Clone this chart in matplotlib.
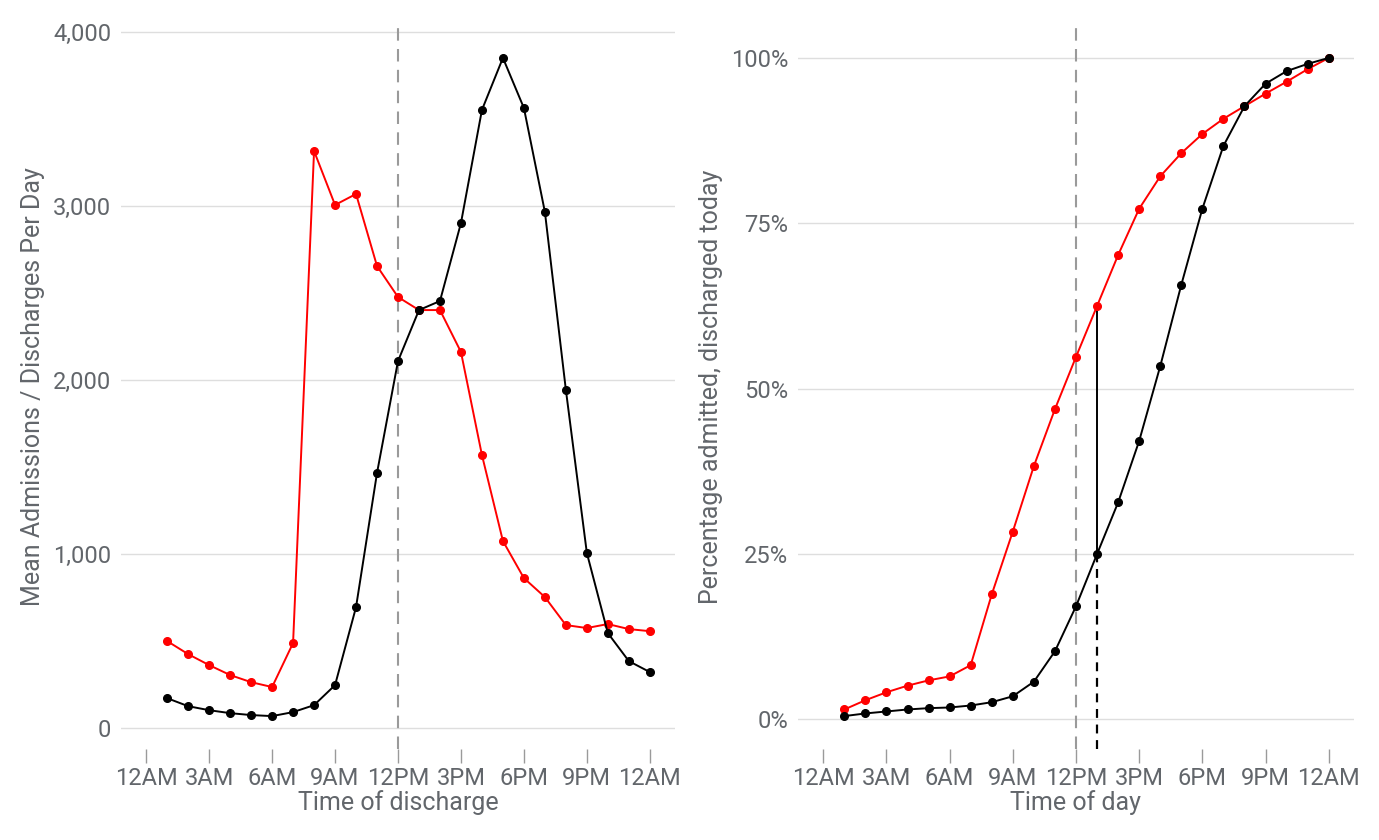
import matplotlib.pyplot as plt

plt.rcParams['font.family'] = ['Roboto', 'DejaVu Sans']

# hours of the day (1 = 1AM ... 24 = midnight)
hours = list(range(1, 25))

# mean admissions / discharges per day by hour
admissions = [500, 425, 362, 305, 264, 236, 489, 3316, 3006, 3069, 2655, 2477,
              2402, 2402, 2161, 1569, 1075, 862, 753, 592, 575, 598, 569, 557]
discharges = [172, 126, 103, 86, 75, 69, 92, 132, 247, 695, 1466, 2109,
              2402, 2454, 2902, 3552, 3851, 3563, 2966, 1943, 1006, 546, 385, 322]

# cumulative percentage admitted / discharged today
pct_admitted = [1.5, 2.9, 4.1, 5.1, 5.9, 6.5, 8.2, 18.9, 28.4, 38.3, 46.9, 54.8,
                62.5, 70.2, 77.2, 82.1, 85.6, 88.5, 90.8, 92.7, 94.6, 96.4, 98.3, 100]
pct_discharged = [0.5, 0.9, 1.2, 1.5, 1.7, 1.8, 2.1, 2.6, 3.5, 5.7, 10.3, 17.1,
                  25.0, 32.8, 42.1, 53.4, 65.7, 77.2, 86.7, 92.7, 96.1, 98.0, 99.1, 100]

tick_hours = [0, 3, 6, 9, 12, 15, 18, 21, 24]
tick_labels = ['12AM', '3AM', '6AM', '9AM', '12PM', '3PM', '6PM', '9PM', '12AM']
noon = 12
gap_hour = 13

txt = '#62666b'
grid_c = '#dedede'

fig = plt.figure(figsize=(13.79, 8.4), dpi=100)
ax1 = fig.add_axes([121/1379, 1 - 749/840, (675-121)/1379, (749-25)/840])
ax2 = fig.add_axes([798/1379, 1 - 749/840, (1354-798)/1379, (749-25)/840])

for ax in (ax1, ax2):
    for s in ax.spines.values():
        s.set_visible(False)
    ax.set_xlim(-1.2, 25.2)
    ax.set_xticks(tick_hours)
    ax.set_xticklabels(tick_labels)
    ax.tick_params(axis='x', length=10, width=1, color='#9a9a9a', pad=3,
                   labelsize=17, labelcolor=txt)
    ax.tick_params(axis='y', length=0, pad=7, labelsize=17, labelcolor=txt)
    ax.grid(axis='y', color=grid_c, linewidth=1)
    ax.set_axisbelow(True)
    ax.axvline(noon, color='#9a9a9a', linestyle=(0, (6, 4)), linewidth=1.5, zorder=1)

# left panel
ax1.plot(hours, admissions, color='red', linewidth=1.4, marker='o', markersize=5.5, zorder=3)
ax1.plot(hours, discharges, color='black', linewidth=1.4, marker='o', markersize=5.5, zorder=3)
ax1.set_ylim(-120, 4040)
ax1.set_yticks([0, 1000, 2000, 3000, 4000])
ax1.set_yticklabels(['0', '1,000', '2,000', '3,000', '4,000'])
ax1.set_xlabel('Time of discharge', fontsize=18, color=txt, labelpad=0)
ax1.set_ylabel('Mean Admissions / Discharges Per Day', fontsize=18, color=txt, labelpad=6)

# right panel
i = hours.index(gap_hour)
ax2.plot([gap_hour, gap_hour], [pct_discharged[i], pct_admitted[i]], color='black', linewidth=1.4, zorder=2)
ax2.plot([gap_hour, gap_hour], [-4.475, pct_discharged[i]], color='black', linewidth=1.6,
         linestyle=(0, (4, 3)), zorder=2)
ax2.plot(hours, pct_admitted, color='red', linewidth=1.4, marker='o', markersize=5.5, zorder=3)
ax2.plot(hours, pct_discharged, color='black', linewidth=1.4, marker='o', markersize=5.5, zorder=3)
ax2.set_ylim(-4.475, 104.975)
ax2.set_yticks([0, 25, 50, 75, 100])
ax2.set_yticklabels(['0%', '25%', '50%', '75%', '100%'])
ax2.set_xlabel('Time of day', fontsize=18, color=txt, labelpad=0)
ax2.set_ylabel('Percentage admitted, discharged today', fontsize=18, color=txt, labelpad=6)

fig.savefig('out.png', dpi=100)
